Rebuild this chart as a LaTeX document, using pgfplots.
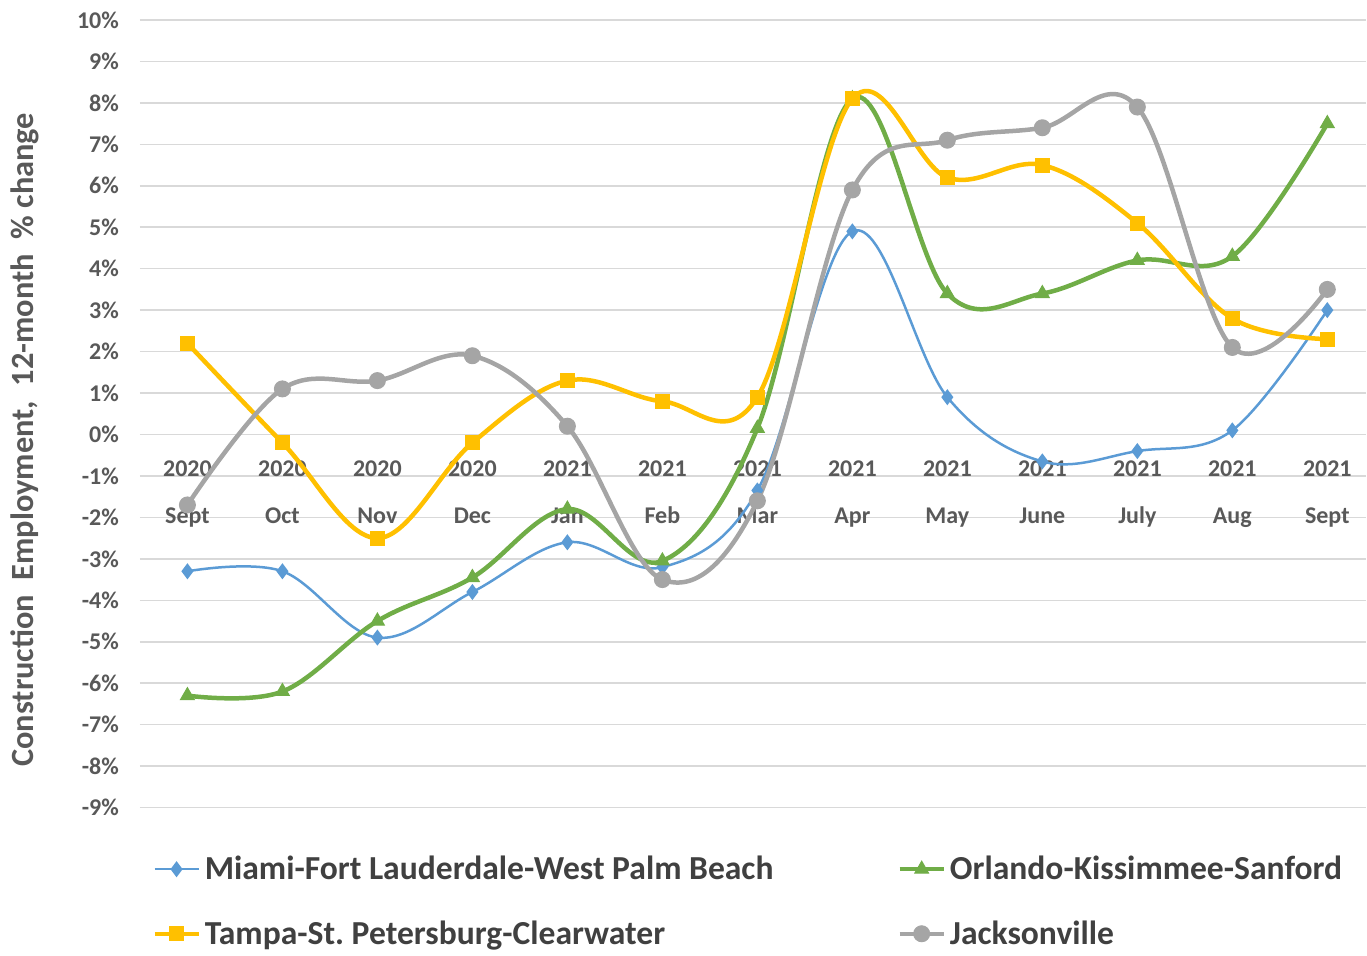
\documentclass[border=0pt]{standalone}
\usepackage{pgfplots}
\pgfplotsset{compat=1.18}
\usepackage{fontspec}
\setmainfont{Carlito}
\definecolor{cblue}{HTML}{5B9BD5}
\definecolor{cgreen}{HTML}{70AD47}
\definecolor{cyellow}{HTML}{FFC000}
\definecolor{cgray}{HTML}{A5A5A5}
\definecolor{gridgray}{HTML}{D9D9D9}
\definecolor{txt}{HTML}{595959}
\definecolor{legtxt}{HTML}{404040}
\begin{document}
\begin{tikzpicture}
\begin{axis}[
    width=613.5pt, height=394pt, scale only axis,
    xmin=-0.5, xmax=12.41, ymin=-9, ymax=10,
    axis x line=middle, axis y line=left,
    axis line style={draw=none},
    hide obscured x ticks=false, hide obscured y ticks=false,
    major tick length=0pt,
    ytick={-9,-8,...,10},
    yticklabels={-9\%,-8\%,-7\%,-6\%,-5\%,-4\%,-3\%,-2\%,-1\%,0\%,1\%,2\%,3\%,4\%,5\%,6\%,7\%,8\%,9\%,10\%},
    xtick={0,1,...,12},
    xticklabels={{2020\\[9.5pt]Sept},{2020\\[9.5pt]Oct},{2020\\[9.5pt]Nov},{2020\\[9.5pt]Dec},
                 {2021\\[9.5pt]Jan},{2021\\[9.5pt]Feb},{2021\\[9.5pt]Mar},{2021\\[9.5pt]Apr},
                 {2021\\[9.5pt]May},{2021\\[9.5pt]June},{2021\\[9.5pt]July},{2021\\[9.5pt]Aug},{2021\\[9.5pt]Sept}},
    xticklabel style={align=center, font=\fontsize{12}{14}\selectfont\bfseries, text=txt, yshift=-9.5pt},
    yticklabel style={font=\fontsize{12}{14}\selectfont\bfseries, text=txt, xshift=-7pt},
    ymajorgrids, grid style={color=gridgray, line width=0.75pt},
    ylabel={Construction\ \ Employment,\ \ 12-month\ \ \% change},
    ylabel style={font=\fontsize{16.2}{19}\selectfont\bfseries, text=txt, at={(ticklabel cs:0.467)}},
    ylabel shift=12pt,
    legend columns=2,
    legend cell align=left,
    legend style={draw=none, fill=none, at={(rel axis cs:0,0)}, anchor=north west,
        xshift=4pt, yshift=-20pt,
        font=\fontsize{16.8}{19}\selectfont\bfseries, text=legtxt,
        /tikz/every even column/.append style={column sep=60pt},
        row sep=15pt, inner sep=2pt},
    legend image code/.code={\draw[mark repeat=2,mark phase=2] plot coordinates {(0pt,0pt) (11pt,0pt) (22pt,0pt)};},
    every axis plot/.append style={smooth, tension=0.6},
    clip=false,
]
\addplot[color=cblue, line width=1.25pt, mark=diamond*, mark size=3pt, mark options={solid, fill=cblue}]
coordinates {(0,-3.3) (1,-3.3) (2,-4.9) (3,-3.8) (4,-2.6) (5,-3.2) (6,-1.35) (7,4.9) (8,0.9) (9,-0.65) (10,-0.4) (11,0.1) (12,3.0)};
\addlegendentry{Miami-Fort Lauderdale-West Palm Beach}
\addplot[color=cgreen, line width=2.25pt, mark=triangle*, mark size=4pt, mark options={solid, fill=cgreen, line width=0.5pt}]
coordinates {(0,-6.3) (1,-6.2) (2,-4.5) (3,-3.45) (4,-1.8) (5,-3.05) (6,0.15) (7,8.1) (8,3.4) (9,3.4) (10,4.2) (11,4.3) (12,7.5)};
\addlegendentry{Orlando-Kissimmee-Sanford}
\addplot[color=cyellow, line width=2.25pt, mark=square*, mark size=3.5pt, mark options={solid, fill=cyellow, line width=0.5pt}]
coordinates {(0,2.2) (1,-0.2) (2,-2.5) (3,-0.2) (4,1.3) (5,0.8) (6,0.9) (7,8.1) (8,6.2) (9,6.5) (10,5.1) (11,2.8) (12,2.3)};
\addlegendentry{Tampa-St.\ Petersburg-Clearwater}
\addplot[color=cgray, line width=2.25pt, mark=*, mark size=4pt, mark options={solid, fill=cgray, line width=0.5pt}]
coordinates {(0,-1.7) (1,1.1) (2,1.3) (3,1.9) (4,0.2) (5,-3.5) (6,-1.6) (7,5.9) (8,7.1) (9,7.4) (10,7.9) (11,2.1) (12,3.5)};
\addlegendentry{Jacksonville}
\end{axis}
\path (current axis.south west) ++(-70pt,-70pt);
\path (current axis.north east) ++(0pt,10pt);
\end{tikzpicture}
\end{document}
